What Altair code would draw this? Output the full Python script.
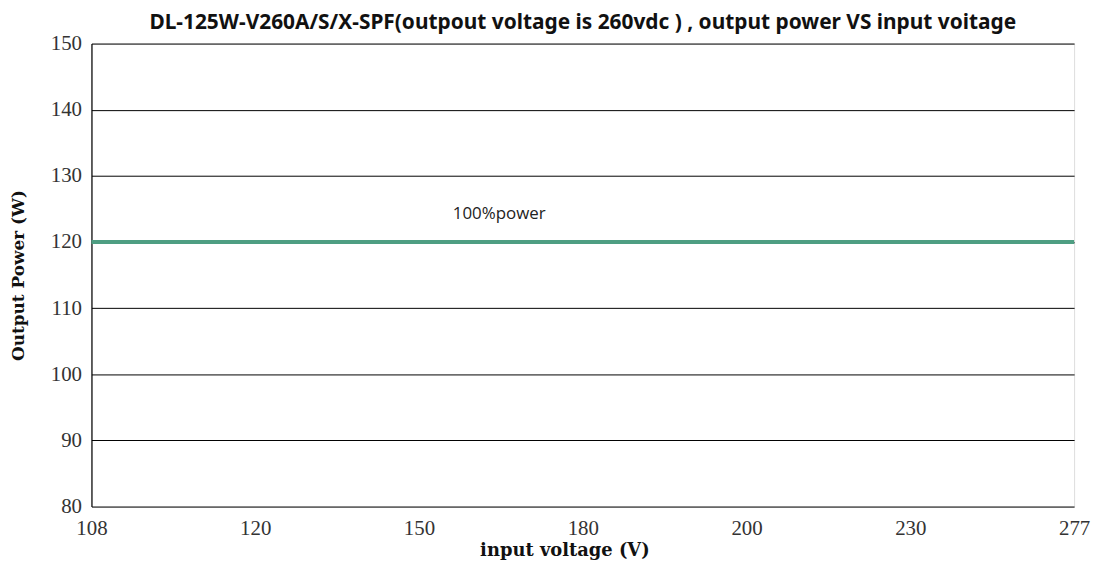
import altair as alt
import pandas as pd

voltages = ["108", "120", "150", "180", "200", "230", "277"]
power = [120, 120, 120, 120, 120, 120, 120]
label_text = ["100%power"]
label_x = ["150"]
label_y = [120]

df = pd.DataFrame({"v": voltages, "p": power})
lab = pd.DataFrame({"v": label_x, "p": label_y, "t": label_text})

xenc = alt.X("v:O", sort=voltages,
             scale=alt.Scale(type="point", padding=0, domain=voltages),
             axis=alt.Axis(title="input voltage (V)", labelAngle=0, ticks=False,
                           domain=False, grid=False, labelPadding=11,
                           labelFont="Liberation Serif", labelFontSize=21,
                           labelColor="#333", titleFont="DejaVu Serif",
                           titleFontSize=18, titleFontWeight="bold",
                           titleColor="#111", titleX=476, titleY=35))
yenc = alt.Y("p:Q", scale=alt.Scale(domain=[80, 150], nice=False, zero=False),
             axis=alt.Axis(title="Output Power (W)", values=list(range(80, 151, 10)),
                           ticks=False, grid=True, gridColor="#000", gridWidth=1,
                           domain=True, domainColor="#000", domainWidth=1.2,
                           labelPadding=10, labelFont="Liberation Serif",
                           labelFontSize=21, labelColor="#333",
                           titleFont="DejaVu Serif", titleFontSize=17,
                           titleFontWeight="bold", titleColor="#111",
                           titleX=-64, titleY=233))

line = alt.Chart(df).mark_line(color="#4e9e82", strokeWidth=4).encode(x=xenc, y=yenc)
text = alt.Chart(lab).mark_text(align="left", baseline="middle", dx=34, dy=-28,
                                font="Open Sans", fontSize=17, color="#222").encode(
    x=alt.X("v:O", sort=voltages), y="p:Q", text="t:N")

chart = (line + text).properties(
    width=989, height=466,
    title=alt.Title("DL-125W-V260A/S/X-SPF(outpout voltage is 260vdc ) , output power VS input voitage",
                    font="Noto Sans", fontSize=21, fontWeight="bold", color="#111",
                    offset=0, anchor="middle"),
    autosize=alt.AutoSizeParams(type="none"),
    padding={"left": 84, "top": 34, "right": 17, "bottom": 56},
).configure_view(stroke="#444", strokeWidth=1.2).configure(background="white")

chart.save("out.html", embed_options={"renderer": "svg", "actions": False})
